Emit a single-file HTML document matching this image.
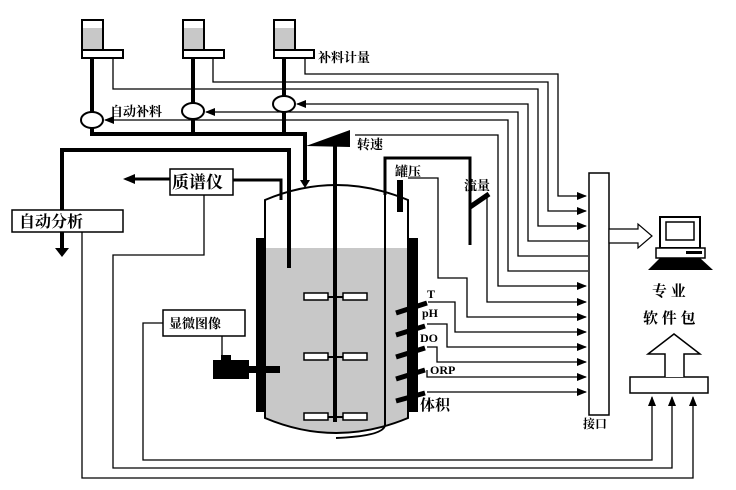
<!DOCTYPE html>
<html><head><meta charset="utf-8"><style>
html,body{margin:0;padding:0;background:#fff;}
svg{display:block;}
text{font-family:"Liberation Serif","Noto Serif CJK SC","Noto Sans CJK SC",serif;font-weight:bold;fill:#000;}
</style></head><body>
<svg width="736" height="490" viewBox="0 0 736 490" xmlns="http://www.w3.org/2000/svg">
<defs>
<marker id="a" markerWidth="10" markerHeight="8" refX="9" refY="4" orient="auto" markerUnits="userSpaceOnUse"><path d="M0,0 L10,4 L0,8 Z" fill="#000"/></marker>
</defs>
<g stroke="#000" stroke-width="2" fill="#fff">
<rect x="82" y="20" width="21" height="30"/><rect x="82" y="50" width="41" height="8"/>
<rect x="183" y="20" width="21" height="30"/><rect x="183" y="50" width="41" height="8"/>
<rect x="274" y="20" width="21" height="30"/><rect x="274" y="50" width="40" height="8"/>
</g>
<g fill="#c8c8c8"><rect x="83" y="28" width="19" height="21"/><rect x="184" y="28" width="19" height="21"/><rect x="275" y="28" width="19" height="21"/></g>
<g stroke="#000" stroke-width="1.3" fill="none">
<path d="M305 58 V74 H558 V196 H586" marker-end="url(#a)"/>
<path d="M213 58 V82 H548 V211 H586" marker-end="url(#a)"/>
<path d="M113 58 V89 H538 V226 H586" marker-end="url(#a)"/>
<path d="M588 241 H528 V104 H297" marker-end="url(#a)"/>
<path d="M588 256 H518 V112 H206" marker-end="url(#a)"/>
<path d="M588 271 H508 V120 H105" marker-end="url(#a)"/>
<path d="M355 135 H498 V286 H586" marker-end="url(#a)"/>
<path d="M487 195 V302 H586" marker-end="url(#a)"/>
<path d="M408 178 H438 V278 H467 V317 H586" marker-end="url(#a)"/>
<path d="M428 302 H455 V332 H586" marker-end="url(#a)"/>
<path d="M427 324 H447 V347 H586" marker-end="url(#a)"/>
<path d="M427 347 H437 V362 H586" marker-end="url(#a)"/>
<path d="M427 370 V377 H586" marker-end="url(#a)"/>
<path d="M427 392 H586" marker-end="url(#a)"/>
<path d="M82 232 V478 H693 V397" marker-end="url(#a)"/>
<path d="M204 195 V255 H113 V468 H672 V397" marker-end="url(#a)"/>
<path d="M163 323 H143 V460 H652 V397" marker-end="url(#a)"/>
<path d="M222 336 V356"/>
</g>
<!-- vessel -->
<path d="M265 248 H408 V418 Q336 448 265 418 Z" fill="#c8c8c8"/>
<path d="M265 200 Q336 170 408 200 V418 Q336 448 265 418 Z" fill="none" stroke="#000" stroke-width="2"/>
<rect x="256" y="238" width="9" height="174"/>
<rect x="408" y="238" width="10" height="174"/>
<g stroke="#000" stroke-width="4" fill="none">
<path d="M92 58 V134 H305 V180"/>
<path d="M193 58 V134"/><path d="M284 58 V134"/>
<path d="M62 250 V150 H289 V268"/>
<path d="M335 145 V422"/>
</g>
<path d="M300 180 L305 188 L310 180 Z"/>
<g stroke="#000" stroke-width="2" fill="#fff">
<ellipse cx="92" cy="120" rx="11" ry="8"/><ellipse cx="193" cy="111" rx="11" ry="8"/><ellipse cx="284" cy="104" rx="11" ry="8"/>
</g>
<text x="110" y="116" font-size="13">自动补料</text>
<text x="318" y="62" font-size="13">补料计量</text>
<g stroke="#000" stroke-width="2"><path d="M328 297 H343 M328 357 H343 M328 417 H343"/></g>
<g fill="#fff" stroke="#000" stroke-width="1.5">
<rect x="304" y="293" width="24" height="7"/><rect x="343" y="293" width="24" height="7"/>
<rect x="304" y="353" width="24" height="7"/><rect x="343" y="353" width="24" height="7"/>
<rect x="304" y="413" width="24" height="7"/><rect x="343" y="413" width="24" height="7"/>
</g>
<path d="M306 146 L350 130 V147 Z"/>
<text x="357" y="149" font-size="13">转速</text>
<path d="M385 195 V158 H470 V245" fill="none" stroke="#000" stroke-width="3"/>
<path d="M385 195 V425 Q384 436 336 438" fill="none" stroke="#000" stroke-width="2"/>
<rect x="397" y="180" width="6" height="32"/>
<path d="M470 207 L489 194" stroke="#000" stroke-width="5"/>
<text x="395" y="176" font-size="13">罐压</text>
<text x="464" y="190" font-size="13">流量</text>
<g stroke="#000" stroke-width="5">
<path d="M396 313 L427 303"/><path d="M396 335 L425 326"/><path d="M396 357 L425 348"/><path d="M396 379 L425 370"/><path d="M396 401 L425 393"/>
</g>
<text x="427" y="298" font-size="12">T</text>
<text x="422" y="317" font-size="12">pH</text>
<text x="420" y="342" font-size="12">DO</text>
<text x="430" y="374" font-size="12">ORP</text>
<text x="420" y="410" font-size="15" font-weight="normal">体积</text>
<rect x="12" y="210" width="111" height="22" fill="#fff" stroke="#000" stroke-width="1.5"/>
<text x="19" y="227" font-size="16" font-weight="normal">自动分析</text>
<path d="M55 248 H69 L62 257 Z"/>
<rect x="170" y="169" width="63" height="26" fill="#fff" stroke="#000" stroke-width="1.5"/>
<text x="172" y="188" font-size="17" font-weight="normal">质谱仪</text>
<path d="M170 179 H133" stroke="#000" stroke-width="3"/><path d="M135 174 L123 179 L135 184 Z"/>
<path d="M233 180 H281 V200" fill="none" stroke="#000" stroke-width="3"/>
<rect x="163" y="310" width="82" height="26" fill="#fff" stroke="#000" stroke-width="1.5"/>
<text x="169" y="328" font-size="13">显微图像</text>
<rect x="221" y="355" width="10" height="7"/><rect x="213" y="360" width="36" height="19"/>
<rect x="248" y="366" width="32" height="7"/>
<rect x="589" y="173" width="20" height="242" fill="#fff" stroke="#000" stroke-width="1.5"/>
<text x="583" y="428" font-size="12">接口</text>
<path d="M609 229 H638 V224 L652 236 L638 248 V243 H609 Z" fill="#fff" stroke="#000" stroke-width="1.2"/>
<rect x="660" y="217" width="40" height="31" fill="#fff" stroke="#000" stroke-width="2"/>
<rect x="666" y="222" width="28" height="18" fill="#fff" stroke="#000" stroke-width="1.5"/>
<rect x="656" y="248" width="49" height="10" fill="#fff" stroke="#000" stroke-width="1.5"/>
<rect x="686" y="251" width="16" height="3"/>
<path d="M660 258 H700 L713 270 H648 Z"/>
<text x="652" y="296" font-size="15" font-weight="normal">专 业</text>
<text x="643" y="323" font-size="15" font-weight="normal">软 件 包</text>
<rect x="630" y="377" width="78" height="16" fill="#fff" stroke="#000" stroke-width="1.5"/>
<path d="M665 377 V354 H648 L674 334 L700 354 H684 V377" fill="#fff" stroke="#000" stroke-width="1.5"/>
</svg>
</body></html>
